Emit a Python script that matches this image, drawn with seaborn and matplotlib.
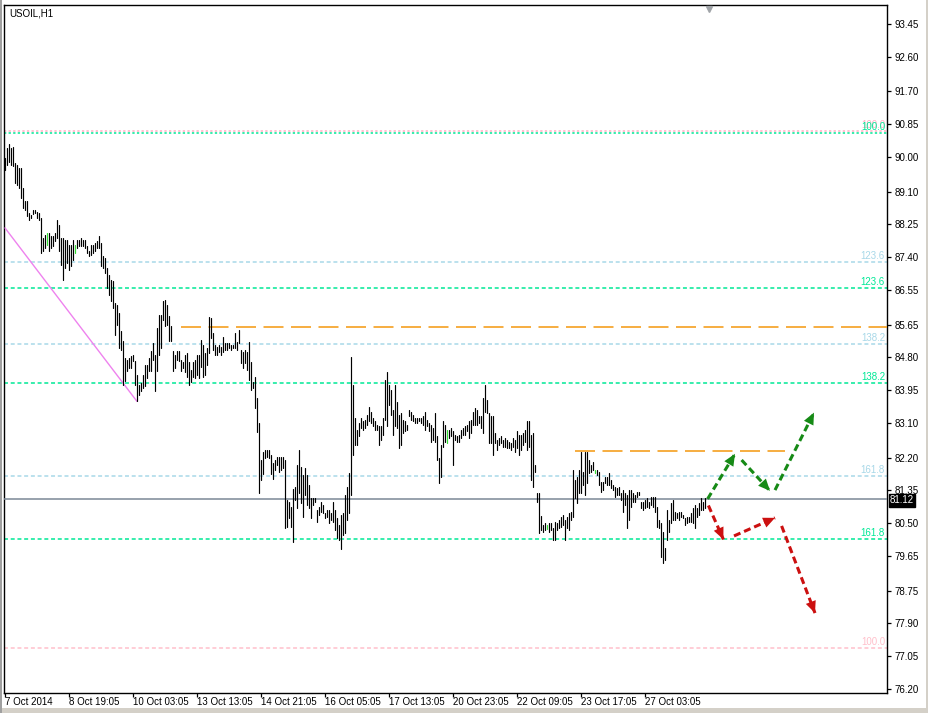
import numpy as np
import pandas as pd
import matplotlib
matplotlib.use("Agg")
import matplotlib.pyplot as plt
import matplotlib.transforms as mtransforms
from matplotlib.patches import Rectangle
import seaborn as sns

# ---------------- data ----------------
symbol_title = "USOIL,H1"

bar_high = [
    89.97, 90.23, 90.34, 90.23, 90.25, 89.84, 89.80, 89.71, 89.71, 89.20,
    88.85, 88.85, 88.55, 88.50, 88.63, 88.63, 88.57, 88.55, 88.42, 87.90,
    87.98, 88.03, 88.03, 87.94, 87.94, 88.03, 88.37, 88.24, 87.90, 87.90,
    87.86, 87.86, 87.73, 87.73, 87.86, 87.73, 87.86, 87.86, 87.90, 87.86,
    87.86, 87.68, 87.55, 87.73, 87.73, 87.77, 87.81, 87.94, 87.77, 87.42,
    87.38, 87.12, 86.95, 86.82, 86.78, 86.21, 86.17, 85.95, 85.48, 85.22,
    84.79, 84.74, 84.79, 84.83, 84.87, 84.70, 84.35, 84.09, 84.14, 84.35,
    84.61, 84.61, 84.79, 84.96, 85.18, 84.87, 85.56, 85.91, 85.91, 86.26,
    86.30, 86.17, 85.87, 85.61, 84.96, 84.87, 84.96, 84.96, 84.74, 84.69,
    84.86, 84.91, 84.69, 84.47, 84.69, 84.73, 84.86, 84.86, 85.25, 85.12,
    84.91, 85.04, 85.86, 85.82, 85.43, 85.12, 85.08, 85.12, 85.08, 85.34,
    85.17, 85.17, 85.17, 85.12, 85.12, 85.43, 85.21, 85.51, 84.99, 84.95,
    84.99, 84.95, 85.21, 84.69, 84.17, 84.30, 83.74, 83.09, 82.14, 82.36,
    82.40, 82.40, 82.40, 82.27, 82.05, 82.14, 82.23, 82.23, 82.23, 82.23,
    82.14, 81.10, 81.06, 80.93, 81.40, 81.45, 82.01, 82.40, 81.97, 81.75,
    81.92, 81.75, 81.49, 81.15, 81.15, 81.15, 80.84, 80.93, 81.06, 80.97,
    80.76, 80.84, 80.84, 80.76, 81.06, 80.84, 80.63, 80.45, 80.71, 80.76,
    81.23, 81.45, 81.80, 84.82, 84.09, 83.22, 82.92, 83.09, 83.22, 83.14,
    83.18, 83.31, 83.52, 83.39, 83.22, 83.14, 83.05, 83.01, 83.01, 83.22,
    84.22, 84.43, 84.09, 83.96, 83.44, 84.09, 83.65, 83.31, 83.35, 83.18,
    83.14, 83.05, 83.44, 83.39, 83.31, 83.22, 83.22, 83.22, 83.22, 83.27,
    83.39, 83.18, 83.09, 83.05, 82.96, 83.35, 82.75, 82.18, 82.53, 83.14,
    83.05, 82.92, 82.92, 82.96, 82.88, 82.79, 82.75, 82.79, 82.92, 82.96,
    83.01, 83.05, 83.14, 83.18, 83.39, 83.48, 83.44, 83.27, 83.27, 83.74,
    84.09, 83.70, 83.35, 83.27, 83.27, 82.83, 82.66, 82.70, 82.75, 82.66,
    82.70, 82.66, 82.62, 82.57, 82.70, 82.66, 82.88, 82.79, 82.79, 82.83,
    82.92, 83.14, 83.14, 82.79, 82.83, 82.01, 81.28, 81.28, 80.69, 80.45,
    80.50, 80.45, 80.50, 80.50, 80.37, 80.54, 80.51, 80.58, 80.67, 80.71,
    80.58, 80.67, 80.76, 80.80, 81.88, 81.62, 81.71, 81.88, 82.36, 81.84,
    82.36, 82.36, 82.14, 82.01, 82.10, 81.88, 81.88, 81.84, 81.58, 81.58,
    81.71, 81.71, 81.80, 81.62, 81.49, 81.45, 81.41, 81.45, 81.28, 81.36,
    81.28, 81.23, 81.36, 81.36, 81.28, 81.23, 81.32, 81.32, 81.06, 81.06,
    81.10, 81.15, 81.06, 81.19, 81.19, 81.19, 80.93, 80.58, 80.50, 80.28,
    79.85, 80.84, 80.58, 81.02, 81.10, 80.80, 80.76, 80.80, 80.80, 80.71,
    80.63, 80.67, 80.67, 80.76, 80.89, 80.97, 80.89, 81.02, 81.15, 81.06,
    81.15,
]

bar_low = [
    89.65, 89.80, 89.87, 89.78, 89.76, 89.33, 89.28, 89.20, 88.94, 88.68,
    88.63, 88.46, 88.37, 88.42, 88.52, 88.55, 88.42, 88.37, 87.51, 87.55,
    87.64, 87.73, 87.55, 87.64, 87.68, 87.81, 87.90, 87.55, 87.21, 86.82,
    87.12, 87.25, 87.08, 87.16, 87.34, 87.51, 87.64, 87.68, 87.68, 87.68,
    87.64, 87.51, 87.42, 87.47, 87.51, 87.55, 87.64, 87.64, 87.16, 87.12,
    86.99, 86.60, 86.43, 86.26, 86.08, 85.39, 85.65, 85.04, 85.00, 84.09,
    84.18, 84.44, 84.53, 84.53, 84.70, 84.09, 83.66, 83.83, 83.92, 84.01,
    84.05, 84.27, 84.44, 84.44, 84.74, 83.92, 84.44, 84.87, 85.04, 85.78,
    85.61, 85.65, 85.22, 85.22, 84.44, 84.53, 84.74, 84.72, 84.44, 84.52,
    84.43, 84.30, 84.09, 84.17, 84.30, 84.26, 84.35, 84.26, 84.56, 84.30,
    84.35, 84.60, 84.91, 85.30, 84.99, 84.86, 84.86, 84.95, 84.86, 84.95,
    85.00, 85.00, 85.04, 85.00, 85.04, 85.04, 85.00, 85.17, 84.65, 84.52,
    84.65, 84.47, 84.22, 83.96, 84.00, 83.48, 82.87, 81.28, 81.62, 81.79,
    82.18, 82.23, 82.18, 81.79, 81.66, 81.88, 82.01, 81.84, 81.88, 81.92,
    80.37, 80.41, 80.63, 80.41, 80.02, 81.10, 80.89, 81.28, 81.02, 80.67,
    81.23, 80.97, 80.89, 80.63, 80.97, 81.06, 80.54, 80.71, 80.80, 80.76,
    80.63, 80.67, 80.50, 80.58, 80.54, 80.32, 80.11, 80.06, 79.82, 80.19,
    80.24, 80.58, 80.76, 81.23, 82.27, 82.53, 82.53, 82.75, 82.96, 82.92,
    82.96, 83.05, 83.14, 83.09, 83.01, 82.92, 82.92, 82.53, 82.66, 82.79,
    83.18, 83.01, 83.57, 83.31, 82.79, 83.01, 82.96, 82.44, 82.53, 82.83,
    82.88, 82.92, 83.27, 83.18, 83.14, 83.09, 83.09, 83.14, 83.09, 83.05,
    82.92, 83.01, 82.88, 82.62, 82.66, 82.62, 82.14, 81.55, 81.71, 82.49,
    82.62, 82.57, 82.70, 82.75, 82.01, 82.66, 82.62, 82.62, 82.70, 82.79,
    82.79, 82.88, 82.70, 82.83, 83.05, 83.05, 83.05, 83.09, 82.96, 82.83,
    83.39, 83.35, 82.57, 82.57, 82.27, 82.57, 82.40, 82.53, 82.57, 82.49,
    82.49, 82.44, 82.44, 82.40, 82.49, 82.36, 82.44, 82.27, 82.40, 82.53,
    82.62, 82.40, 82.49, 81.62, 81.45, 81.84, 81.06, 80.24, 80.32, 80.28,
    80.32, 80.34, 80.28, 80.32, 80.06, 80.06, 80.32, 80.37, 80.41, 80.45,
    80.06, 80.37, 80.32, 80.58, 80.67, 81.15, 81.02, 81.28, 81.28, 81.49,
    81.23, 81.55, 81.80, 81.84, 81.88, 81.80, 81.75, 81.49, 81.32, 81.36,
    81.54, 81.49, 81.49, 81.41, 81.36, 81.19, 81.23, 81.23, 81.10, 80.80,
    80.97, 80.37, 80.58, 80.93, 81.06, 81.06, 81.19, 81.23, 80.89, 80.84,
    80.89, 80.93, 80.89, 80.97, 80.93, 80.80, 80.41, 80.37, 79.63, 79.46,
    79.55, 80.06, 80.28, 80.50, 80.58, 80.58, 80.63, 80.58, 80.67, 80.63,
    80.45, 80.50, 80.54, 80.54, 80.50, 80.37, 80.67, 80.71, 80.84, 80.84,
    80.89,
]

green_bars = [21, 35, 221, 271, 295]

x_tick_bars = [0, 32, 64, 96, 128, 160, 192, 224, 256, 288, 320]
x_tick_labels = ["7 Oct 2014", "8 Oct 19:05", "10 Oct 03:05", "13 Oct 13:05",
                 "14 Oct 21:05", "16 Oct 05:05", "17 Oct 13:05", "20 Oct 23:05",
                 "22 Oct 09:05", "23 Oct 17:05", "27 Oct 03:05"]

y_tick_values = [93.45, 92.60, 91.70, 90.85, 90.00, 89.10, 88.25, 87.40, 86.55,
                 85.65, 84.80, 83.95, 83.10, 82.20, 81.35, 80.50, 79.65, 78.75,
                 77.90, 77.05, 76.20]
y_tick_labels = ["93.45", "92.60", "91.70", "90.85", "90.00", "89.10", "88.25",
                 "87.40", "86.55", "85.65", "84.80", "83.95", "83.10", "82.20",
                 "81.35", "80.50", "79.65", "78.75", "77.90", "77.05", "76.20"]

last_price = 81.12

fib_prices = [90.67, 90.61, 87.28, 86.60, 85.15, 84.14, 81.72, 80.09, 77.26]
fib_labels = ["100.0", "100.0", "123.6", "123.6", "138.2", "138.2", "161.8", "161.8", "100.0"]
fib_colors = ["#ffb0c4", "#00e896", "#a8d8e8", "#00e896", "#a8d8e8", "#00e896",
              "#a8d8e8", "#00e896", "#ffc0cb"]

resist_prices = [85.59, 82.37]
resist_from_bar = [88, 285]
resist_to_bar = [441, 390]

trend_bars = [0, 66]
trend_prices = [88.16, 83.66]

green_from_bar = [351.3, 368.3, 385.0]
green_from_price = [81.13, 82.14, 81.36]
green_to_bar = [365.0, 382.5, 404.5]
green_to_price = [82.30, 81.34, 83.37]

red_from_bar = [351.7, 364.5, 388.3]
red_from_price = [80.96, 80.17, 80.43]
red_to_bar = [359.2, 385.0, 405.0]
red_to_price = [80.08, 80.64, 78.17]

# ---------------- style ----------------
sns.set_style("white")
plt.rcParams["font.family"] = ["Liberation Sans", "DejaVu Sans"]
plt.rcParams["lines.dash_capstyle"] = "butt"

W, H = 929, 713
fig = plt.figure(figsize=(W / 100, H / 100), dpi=100, facecolor="white")
ax = fig.add_axes([4 / W, 1 - 692.7 / H, 883 / W, 687.7 / H])
ax.set_facecolor("white")

# ---------------- bars via seaborn ----------------
idx = np.arange(len(bar_high))
df = pd.concat([
    pd.DataFrame({"bar": idx, "price": bar_high}),
    pd.DataFrame({"bar": idx, "price": bar_low}),
], ignore_index=True)
df["tone"] = np.where(df["bar"].isin(green_bars), "g", "k")
sns.lineplot(data=df, x="bar", y="price", units="bar", estimator=None,
             hue="tone", palette={"k": "black", "g": "#33dd33"},
             legend=False, lw=0.85, ax=ax, zorder=5)

# ---------------- fib lines ----------------
for i, (p, lab, c) in enumerate(zip(fib_prices, fib_labels, fib_colors)):
    dash = (1.5, 1.5) if i < 2 else (2.6, 1.8)
    ax.axhline(p, color=c, lw=1.1, dashes=dash, zorder=2)
    ax.annotate(lab, xy=(440, p), xytext=(0, 0.8), textcoords="offset points",
                ha="right", va="bottom", fontsize=7, color=c, zorder=6)

# resistance lines
for p, b0, b1 in zip(resist_prices, resist_from_bar, resist_to_bar):
    ax.plot([b0, b1], [p, p], color="#f5a020", lw=1.2, dashes=(12, 4.5), zorder=3)

# current price line
ax.axhline(last_price, color="#7a8796", lw=1.1, zorder=3)

# trend line
trend_df = pd.DataFrame({"bar": trend_bars, "price": trend_prices})
sns.lineplot(data=trend_df, x="bar", y="price", color="#ee82ee", lw=1.0, ax=ax, zorder=4)

# arrows
def draw_arrows(fb, fp, tb, tp, color):
    for x0, y0, x1, y1 in zip(fb, fp, tb, tp):
        ax.plot([x0, x1], [y0, y1], color=color, lw=2.2, dashes=(2.3, 1.3),
                zorder=7, clip_on=False)
        ax.annotate("", xy=(x1, y1), xytext=(x0, y0),
                    arrowprops=dict(arrowstyle="-|>,head_length=0.85,head_width=0.38",
                                    mutation_scale=10, lw=0, color=color,
                                    shrinkA=0, shrinkB=0), zorder=8)

draw_arrows(green_from_bar, green_from_price, green_to_bar, green_to_price, "#168a16")
draw_arrows(red_from_bar, red_from_price, red_to_bar, red_to_price, "#cc1010")

# ---------------- axes ----------------
ax.set_xlim(-0.5, 441)
ax.set_ylim(76.104, 93.943)
ax.set_xlabel("")
ax.set_ylabel("")
for s in ax.spines.values():
    s.set_color("black")
    s.set_linewidth(1.0)

ax.set_xticks(x_tick_bars)
ax.set_xticklabels(x_tick_labels)
for t in ax.get_xticklabels():
    t.set_horizontalalignment("left")
ax.tick_params(axis="x", direction="out", length=2.8, width=0.9, pad=0.6,
               labelsize=7, colors="black", bottom=True)

ax.yaxis.tick_right()
ax.set_yticks(y_tick_values)
ax.set_yticklabels(y_tick_labels)
ax.tick_params(axis="y", direction="out", length=3, width=0.9, pad=2.5,
               labelsize=7, colors="black", right=True, left=False)

# title text
ax.text(5 / 883, 1 - 8 / 687.7, symbol_title, transform=ax.transAxes,
        ha="left", va="center", fontsize=7, color="black")

# current price label box
trans = mtransforms.blended_transform_factory(ax.transAxes, ax.transData)
ax.text(1.0035, last_price - 0.03, f"{last_price:.2f}", transform=trans, ha="left",
        va="center", fontsize=7, color="white", zorder=10, clip_on=False,
        bbox=dict(boxstyle="square,pad=0.12", facecolor="black", edgecolor="black"))

# chart shift marker
trans2 = mtransforms.blended_transform_factory(ax.transData, ax.transAxes)
ax.plot([352], [0.994], marker="v", markersize=5, color="#a0a4a8",
        transform=trans2, clip_on=False, zorder=10)

# window frame pieces (behind the axes)
fig.patches.append(Rectangle((0, 0), 1, 5.3 / H, transform=fig.transFigure,
                             facecolor="#d4d0c8", edgecolor="none", zorder=-5))
fig.patches.append(Rectangle((0, 0), 2 / W, 1, transform=fig.transFigure,
                             facecolor="#a0a0a0", edgecolor="none", zorder=-5))
fig.patches.append(Rectangle((1 - 3 / W, 0), 3 / W, 1, transform=fig.transFigure,
                             facecolor="#d4d0c8", edgecolor="none", zorder=-5))

fig.savefig("out.png", dpi=100, facecolor=fig.get_facecolor())
